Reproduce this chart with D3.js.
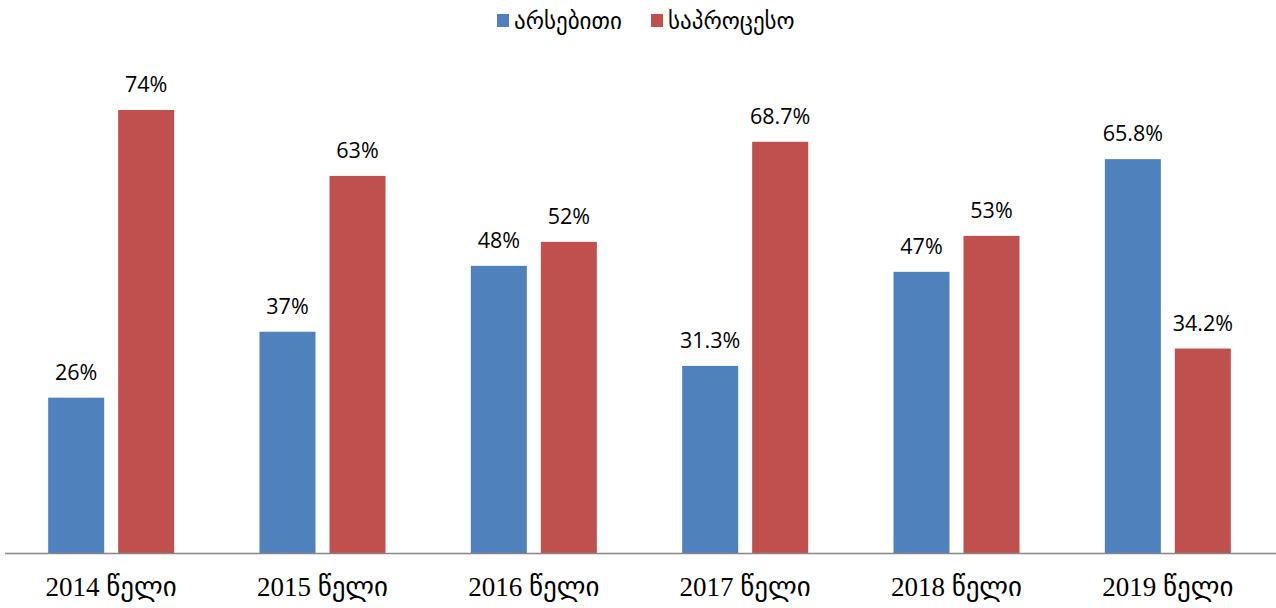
<!DOCTYPE html>
<html>
<head>
<meta charset="utf-8">
<script src="https://cdn.jsdelivr.net/npm/d3@7"></script>
<style>
  body { margin: 0; background: #fff; }
  svg { display: block; }
</style>
</head>
<body>
<svg id="chart" width="1276" height="608"></svg>
<script>
const years = ['2014 წელი', '2015 წელი', '2016 წელი', '2017 წელი', '2018 წელი', '2019 წელი'];
const seriesNames = ['არსებითი', 'საპროცესო'];
const substantive = [26, 37, 48, 31.3, 47, 65.8];
const procedural = [74, 63, 52, 68.7, 53, 34.2];
const colors = ['#4f81bd', '#c0504d'];

const svg = d3.select('#chart');
const baseY = 553.5;

const x = d3.scaleBand()
  .domain(years)
  .range([5.5, 1273.5]);

const inner = d3.scaleBand()
  .domain(seriesNames)
  .range([x.bandwidth() / 2 - 63, x.bandwidth() / 2 + 63])
  .paddingInner(0.2);

const y = d3.scaleLinear()
  .domain([0, 74])
  .range([baseY, 110]);

const rows = years.map((yr, i) => ({
  year: yr,
  values: [substantive[i], procedural[i]],
}));

const groups = svg.selectAll('g.group')
  .data(rows)
  .join('g')
  .attr('class', 'group')
  .attr('transform', (d) => `translate(${x(d.year)},0)`);

groups.selectAll('rect')
  .data((d) => d.values.map((v, j) => ({ v, name: seriesNames[j], j })))
  .join('rect')
  .attr('x', (d) => inner(d.name))
  .attr('width', inner.bandwidth())
  .attr('y', (d) => y(d.v))
  .attr('height', (d) => baseY - y(d.v))
  .attr('fill', (d) => colors[d.j]);

groups.selectAll('text.lbl')
  .data((d) => d.values.map((v, j) => ({ v, name: seriesNames[j], j })))
  .join('text')
  .attr('class', 'lbl')
  .attr('x', (d) => inner(d.name) + inner.bandwidth() / 2)
  .attr('y', (d) => y(d.v) - 18)
  .attr('text-anchor', 'middle')
  .style('font-family', '"Open Sans", sans-serif')
  .style('font-size', '21.5px')
  .style('fill', '#000')
  .text((d) => `${d.v}%`);

// x axis (baseline drawn across the full width)
const axis = svg.append('g')
  .attr('transform', `translate(0,${baseY})`)
  .call(d3.axisBottom(x).tickSize(0).tickPadding(23));

axis.select('.domain').remove();

axis.append('line')
  .attr('x1', 5)
  .attr('x2', 1276)
  .attr('stroke', '#868686')
  .attr('stroke-width', 1.5);

axis.selectAll('.tick text')
  .style('font-family', '"Liberation Serif", "DejaVu Sans", serif')
  .style('font-size', '27px')
  .style('fill', '#000');

// legend
const legendX = [497, 651];
const legend = svg.append('g');
seriesNames.forEach((name, j) => {
  legend.append('rect')
    .attr('x', legendX[j])
    .attr('y', 14)
    .attr('width', 12)
    .attr('height', 13)
    .attr('fill', colors[j]);
  legend.append('text')
    .attr('x', legendX[j] + 17)
    .attr('y', 29)
    .style('font-family', '"DejaVu Sans", sans-serif')
    .style('font-size', '23px')
    .style('fill', '#000')
    .text(name);
});
</script>
</body>
</html>
